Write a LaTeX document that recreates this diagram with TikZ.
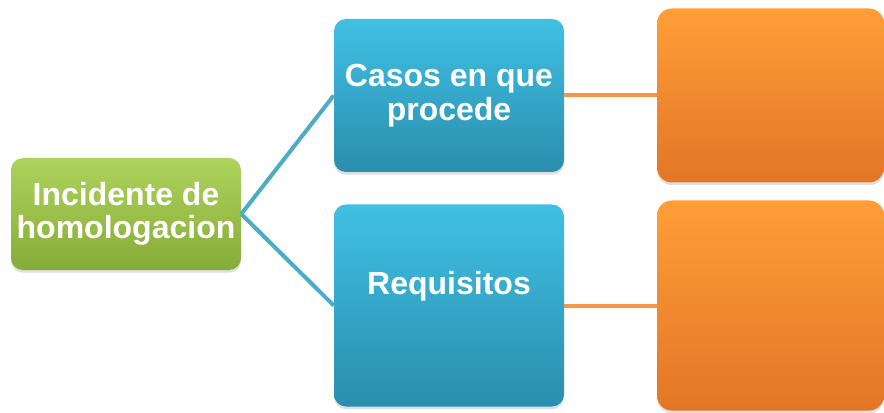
\documentclass[tikz,border=0pt]{standalone}
\usepackage{fontspec}
\setmainfont{Liberation Sans}
\usepackage{xcolor}
\usepackage{tikz}
\usetikzlibrary{shadows}
\definecolor{greentop}{HTML}{AED35C}
\definecolor{greenbot}{HTML}{86AC38}
\definecolor{bluetop}{HTML}{40C0E4}
\definecolor{bluebot}{HTML}{2A8EAD}
\definecolor{orangetop}{HTML}{FF9E38}
\definecolor{orangebot}{HTML}{E27626}
\definecolor{blueline}{HTML}{4BACC6}
\definecolor{orangeline}{HTML}{F79646}
\tikzset{
  mapbox/.style={rectangle, rounded corners=9pt, align=center, inner sep=2pt,
    text=white, font=\fontsize{24}{25}\selectfont\bfseries,
    drop shadow={shadow xshift=0pt, shadow yshift=-2pt, opacity=0.25}},
  rootbox/.style={mapbox, top color=greentop, bottom color=greenbot,
    minimum width=172.5pt, minimum height=84pt},
  topicbox/.style={mapbox, top color=bluetop, bottom color=bluebot, minimum width=172.5pt},
  detailbox/.style={mapbox, rounded corners=11pt, top color=orangetop, bottom color=orangebot,
    minimum width=170pt},
  bluelink/.style={draw=blueline, line width=3pt},
  orangelink/.style={draw=orangeline, line width=3pt}
}
\begin{document}
\begin{tikzpicture}[x=0.75pt, y=-0.75pt]
\useasboundingbox (0,0) rectangle (884,413);
\node[rootbox] (root) at (126,214) {Incidente de\\homologacion};
\node[topicbox, minimum height=114.75pt] (casos) at (449,95.5) {Casos en que\\procede};
\node[topicbox, minimum height=151.5pt, text depth=34pt] (requisitos) at (449,305.5) {Requisitos};
\node[detailbox, minimum height=130.5pt] (casosdet) at (770.5,95.5) {};
\node[detailbox, minimum height=157.5pt] (requisitosdet) at (770.5,305.5) {};
\foreach \t in {casos,requisitos} {
  \draw[bluelink] (root.east) -- (\t.west);
  \draw[orangelink] (\t.east) -- (\t det.west);
}
\end{tikzpicture}
\end{document}
